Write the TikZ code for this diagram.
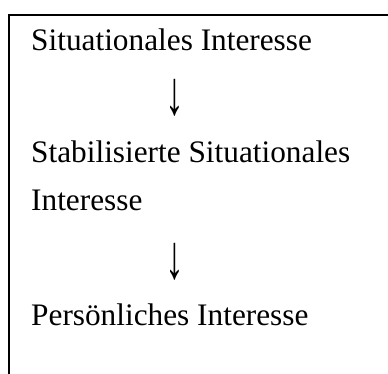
\documentclass[tikz,border=0pt]{standalone}
\usepackage{fontspec}
\setmainfont{Liberation Serif}
\begin{document}
\begin{tikzpicture}[x=1pt,y=-1pt,
  txt/.style={anchor=base west, inner sep=0pt, font=\fontsize{31.3}{36}\selectfont},
  arr/.style={anchor=center, inner sep=0pt, font=\fontsize{31.3}{36}\selectfont},
  frame/.style={line width=2pt, black}]
\useasboundingbox (0,0) rectangle (388,373);
\coordinate (tl) at (8.5,15);
\coordinate (tr) at (389,15);
\coordinate (bl) at (8.5,374);
\draw[frame] (tr) -- (tl) -- (bl);
\node[txt] (s1) at (31,50) {Situationales Interesse};
\node[arr] (a1) at (175,97.5) {\scalebox{1.2}[2.0]{↓}};
\node[txt] (s2) at (31,162) {Stabilisierte Situationales};
\node[txt] (s3) at (31,210) {Interesse};
\node[arr] (a2) at (175,261.5) {\scalebox{1.2}[2.0]{↓}};
\node[txt] (s4) at (31,325) {Persönliches Interesse};
\end{tikzpicture}
\end{document}
